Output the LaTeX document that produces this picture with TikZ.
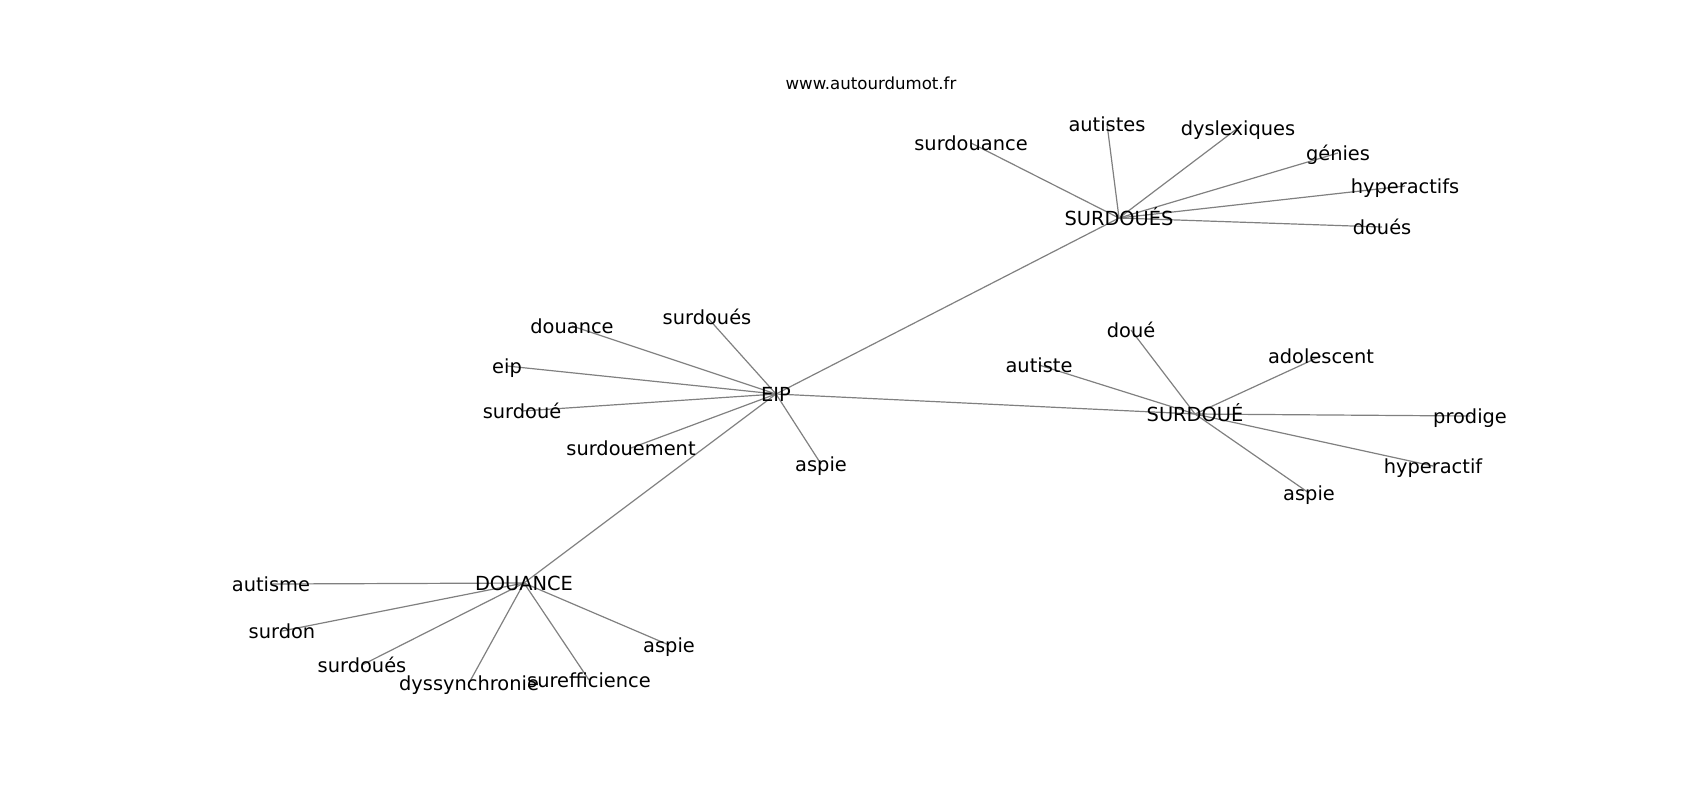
\documentclass[tikz,border=0pt]{standalone}
\usepackage{fontspec}
\setmainfont{DejaVu Sans}
\usetikzlibrary{backgrounds}

\begin{document}
\begin{tikzpicture}[
x=0.5pt, y=-0.5pt,
wordnode/.style={inner sep=0pt, font=\fontsize{9.7}{11}\selectfont, text height=0.86em, text depth=0.14em},
titlenode/.style={inner sep=0pt, font=\fontsize{8.3}{10}\selectfont},
edge/.style={draw=gray, line width=0.6pt},
]
\useasboundingbox (0,0) rectangle (1700,800);

%Title
\node[titlenode] (title) at (871,83) {www.autourdumot.fr};

%Hubs
\node[wordnode] (eip)  at (776,394)  {EIP};
\node[wordnode] (sds)  at (1119,218) {SURDOUÉS};
\node[wordnode] (sd)   at (1195,414) {SURDOUÉ};
\node[wordnode] (dou)  at (524,583)  {DOUANCE};

%Nodes around SURDOUÉS
\node[wordnode] (surdouance)  at (971,143)  {surdouance};
\node[wordnode] (autistes)    at (1107,124) {autistes};
\node[wordnode] (dyslexiques) at (1238,128) {dyslexiques};
\node[wordnode] (genies)      at (1338,153) {génies};
\node[wordnode] (hyperactifs) at (1405,186) {hyperactifs};
\node[wordnode] (doues)       at (1382,227) {doués};

%Nodes around EIP
\node[wordnode] (douance)     at (572,326)  {douance};
\node[wordnode] (surdouesE)   at (707,317)  {surdoués};
\node[wordnode] (eipw)        at (507,366)  {eip};
\node[wordnode] (surdoueE)    at (522,411)  {surdoué};
\node[wordnode] (surdouement) at (631,448)  {surdouement};
\node[wordnode] (aspieE)      at (821,464)  {aspie};

%Nodes around SURDOUÉ
\node[wordnode] (doue)        at (1131,330) {doué};
\node[wordnode] (autiste)     at (1039,365) {autiste};
\node[wordnode] (adolescent)  at (1321,356) {adolescent};
\node[wordnode] (prodige)     at (1470,416) {prodige};
\node[wordnode] (hyperactif)  at (1433,466) {hyperactif};
\node[wordnode] (aspieS)      at (1309,493) {aspie};

%Nodes around DOUANCE
\node[wordnode] (autisme)       at (271,584) {autisme};
\node[wordnode] (surdon)        at (282,631) {surdon};
\node[wordnode] (surdouesD)     at (362,665) {surdoués};
\node[wordnode] (dyssynchronie) at (469,683) {dyssynchronie};
\node[wordnode] (surefficience) at (589,680) {surefficience};
\node[wordnode] (aspieD)        at (669,645) {aspie};

%Lines
\begin{scope}[on background layer]
\draw[edge] (eip.center) -- (sds.center);
\draw[edge] (eip.center) -- (sd.center);
\draw[edge] (eip.center) -- (dou.center);
\foreach \n in {surdouance,autistes,dyslexiques,genies,hyperactifs,doues}
  \draw[edge] (sds.center) -- (\n.center);
\foreach \n in {douance,surdouesE,eipw,surdoueE,surdouement,aspieE}
  \draw[edge] (eip.center) -- (\n.center);
\foreach \n in {doue,autiste,adolescent,prodige,hyperactif,aspieS}
  \draw[edge] (sd.center) -- (\n.center);
\foreach \n in {autisme,surdon,surdouesD,dyssynchronie,surefficience,aspieD}
  \draw[edge] (dou.center) -- (\n.center);
\end{scope}
\end{tikzpicture}
\end{document}
